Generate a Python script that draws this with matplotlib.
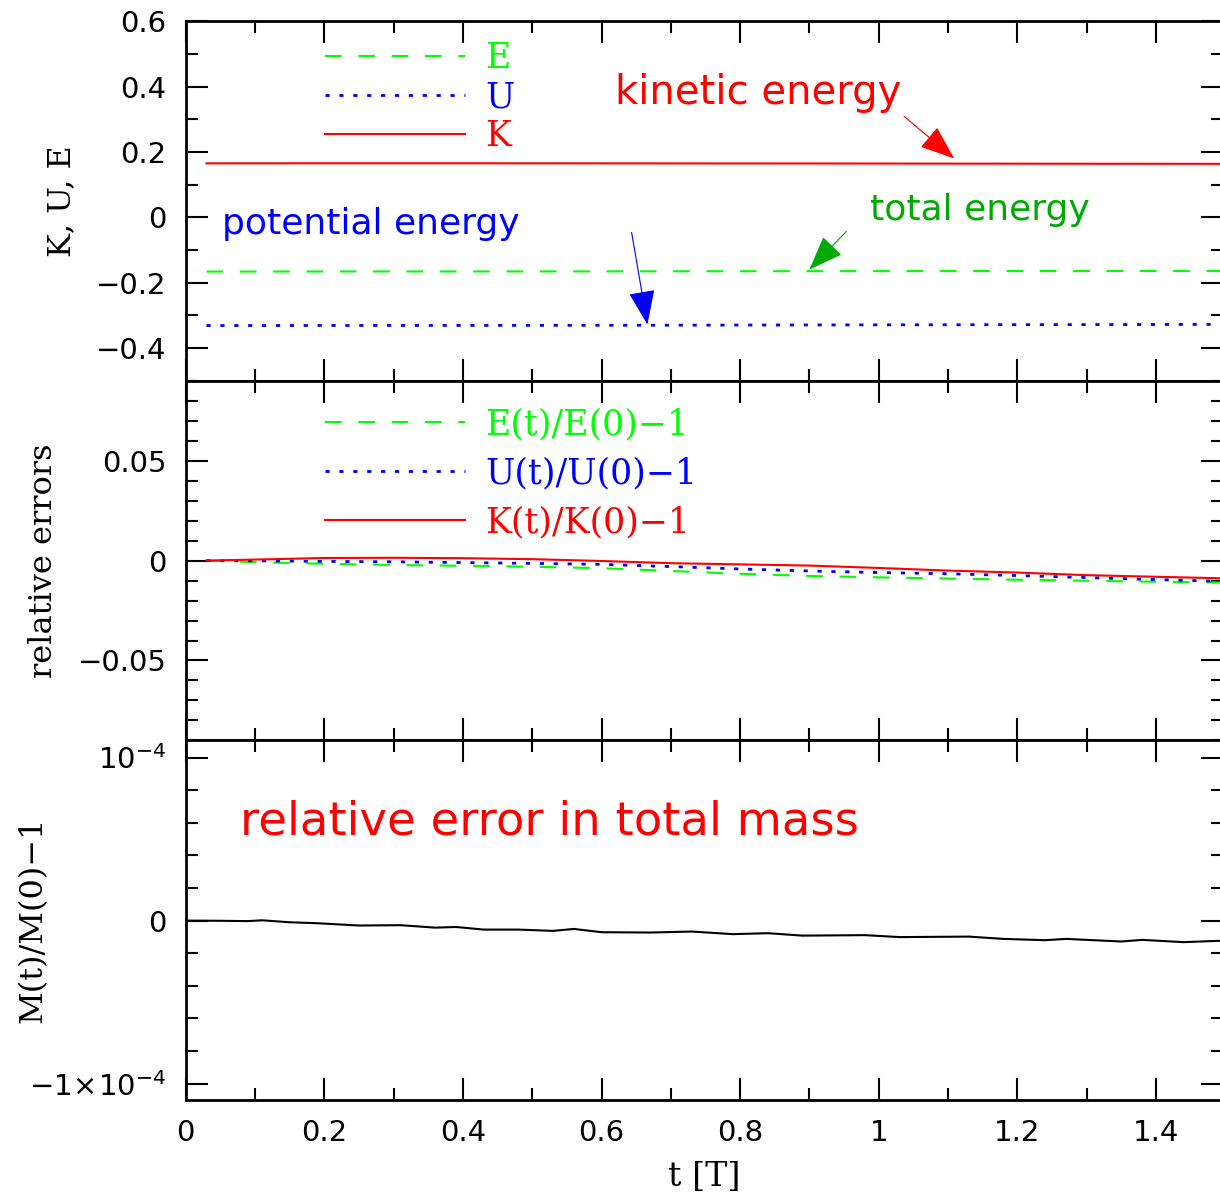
import matplotlib
matplotlib.use('Agg')
import matplotlib.pyplot as plt
from matplotlib.ticker import MultipleLocator, FuncFormatter, FixedLocator, FixedFormatter
from matplotlib.lines import Line2D

# ---------------- data ----------------
t = [0.03, 0.1, 0.2, 0.3, 0.4, 0.5, 0.6, 0.7, 0.8, 0.9, 1.0, 1.1, 1.2, 1.3, 1.4, 1.5]
K = [0.1650, 0.1651, 0.1652, 0.1652, 0.1652, 0.1651, 0.1650, 0.1648, 0.1647, 0.1646,
     0.1644, 0.1642, 0.1640, 0.1638, 0.1637, 0.1635]
U = [-0.3310, -0.3310, -0.3309, -0.3308, -0.3307, -0.3305, -0.3304, -0.3300, -0.3296, -0.3293,
     -0.3290, -0.3288, -0.3285, -0.3282, -0.3279, -0.3276]
E = [-0.1660, -0.1659, -0.1657, -0.1656, -0.1656, -0.1655, -0.1654, -0.1651, -0.1649, -0.1647,
     -0.1646, -0.1645, -0.1644, -0.1643, -0.1642, -0.1642]
rel_K = [0.0, 0.0005, 0.0013, 0.0014, 0.0012, 0.0007, -0.0002, -0.0013, -0.0019, -0.0025,
         -0.0037, -0.0050, -0.0060, -0.0073, -0.0081, -0.0089]
rel_U = [0.0, -0.0001, -0.0004, -0.0006, -0.0010, -0.0014, -0.0019, -0.0030, -0.0042, -0.0052,
         -0.0060, -0.0066, -0.0075, -0.0085, -0.0095, -0.0104]
rel_E = [0.0, -0.0008, -0.0016, -0.0022, -0.0026, -0.0031, -0.0038, -0.0052, -0.0066, -0.0077,
         -0.0084, -0.0090, -0.0096, -0.0101, -0.0106, -0.0110]
t_mass = [0.0, 0.05, 0.09, 0.11, 0.15, 0.19, 0.25, 0.31, 0.36, 0.39, 0.43, 0.48, 0.53, 0.56,
          0.60, 0.67, 0.73, 0.79, 0.84, 0.89, 0.98, 1.03, 1.13, 1.18, 1.24, 1.27, 1.35, 1.38,
          1.44, 1.49, 1.52]
rel_M = [0.0, -0.1e-6, -0.3e-6, 0.2e-6, -1.0e-6, -1.6e-6, -3.0e-6, -2.8e-6, -4.3e-6, -3.9e-6,
         -5.5e-6, -5.5e-6, -6.3e-6, -5.1e-6, -7.1e-6, -7.3e-6, -6.7e-6, -8.3e-6, -7.7e-6,
         -9.2e-6, -8.9e-6, -10.1e-6, -9.8e-6, -11.2e-6, -12.0e-6, -11.2e-6, -12.8e-6,
         -11.8e-6, -13.2e-6, -12.4e-6, -12.6e-6]

labels_top = ['E', 'U', 'K']
labels_mid = ['E(t)/E(0)\u22121', 'U(t)/U(0)\u22121', 'K(t)/K(0)\u22121']
mass_ticks = [1e-4, 0.0, -1e-4]
mass_ticklabels = [r'$10^{-4}$', '0', r'$-1\!\times\!10^{-4}$']

# ---------------- style ----------------
LIME = '#00ff00'
DKGREEN = '#00aa00'
RED = '#ff0000'
BLUE = '#0000ff'
SERIF = ['DejaVu Serif']
plt.rcParams['font.family'] = ['DejaVu Sans']
plt.rcParams['mathtext.fontset'] = 'dejavusans'

fig = plt.figure(figsize=(12.2, 11.94), dpi=100)
left = 185.7 / 1220
width = (1222.5 - 185.7) / 1220
h = 0.3012
ax_top = fig.add_axes([left, 0.6811, width, h])
ax_mid = fig.add_axes([left, 0.3799, width, h])
ax_bot = fig.add_axes([left, 0.0787, width, h])

def fmt(v, pos):
    s = '%g' % v
    return s.replace('-', '\u2212')

for ax in (ax_top, ax_mid, ax_bot):
    ax.set_xlim(0, 1.496)
    ax.xaxis.set_major_locator(MultipleLocator(0.2))
    ax.xaxis.set_minor_locator(MultipleLocator(0.1))
    ax.tick_params(which='both', direction='in', top=True, right=True, width=1.5,
                   labelsize=21, pad=14)
    ax.tick_params(which='major', length=16)
    ax.tick_params(which='minor', length=8.5)
    for sp in ax.spines.values():
        sp.set_linewidth(2)
    ax.xaxis.set_major_formatter(FuncFormatter(fmt))

for ax in (ax_top, ax_mid):
    ax.tick_params(labelbottom=False)

dash_E = (8, 8)
dot_U = (1.5, 3.5)

# ---- top panel ----
ax_top.plot(t, E, color=LIME, lw=1.5, dashes=dash_E)
ax_top.plot(t, U, color=BLUE, lw=2, dashes=dot_U)
ax_top.plot(t, K, color=RED, lw=1.5)
ax_top.set_ylim(-0.5, 0.6)
ax_top.yaxis.set_major_locator(MultipleLocator(0.2))
ax_top.yaxis.set_minor_locator(MultipleLocator(0.1))
ax_top.yaxis.set_major_formatter(FuncFormatter(fmt))
ax_top.set_ylabel('K, U, E', family=SERIF, fontsize=23)
ax_top.yaxis.set_label_coords(-0.105, 0.5)

handles_top = [Line2D([], [], color=LIME, lw=1.5, dashes=dash_E),
               Line2D([], [], color=BLUE, lw=2, dashes=dot_U),
               Line2D([], [], color=RED, lw=1.5)]
ax_top.legend(handles_top, labels_top, loc='upper left', bbox_to_anchor=(0.134, 0.944),
              frameon=False, borderpad=0, borderaxespad=0, handlelength=4.03,
              handletextpad=0.6, labelspacing=0.14, labelcolor='linecolor',
              prop={'family': SERIF, 'size': 25})

ax_top.text(0.6195, 0.346, 'kinetic energy', color=RED, fontsize=29, ha='left', va='baseline')
ax_top.text(0.0524, -0.0524, 'potential energy', color=BLUE, fontsize=26, ha='left', va='baseline')
ax_top.text(0.9874, -0.0095, 'total energy', color=DKGREEN, fontsize=26, ha='left', va='baseline')

def arrow(ax, tail, tip, color):
    ax.annotate('', xy=tip, xytext=tail,
                arrowprops=dict(arrowstyle='-|>,head_length=1.1,head_width=0.42',
                                mutation_scale=20, color=color, lw=0.8,
                                shrinkA=0, shrinkB=0))

arrow(ax_top, (1.0365, 0.309), (1.1087, 0.180), RED)
arrow(ax_top, (0.9535, -0.043), (0.900, -0.1596), DKGREEN)
arrow(ax_top, (0.6434, -0.0463), (0.6662, -0.328), BLUE)

# ---- middle panel ----
ax_mid.plot(t, rel_E, color=LIME, lw=1.5, dashes=dash_E)
ax_mid.plot(t, rel_U, color=BLUE, lw=2, dashes=dot_U)
ax_mid.plot(t, rel_K, color=RED, lw=1.5)
ax_mid.set_ylim(-0.09, 0.09)
ax_mid.yaxis.set_major_locator(MultipleLocator(0.05))
ax_mid.yaxis.set_minor_locator(MultipleLocator(0.01))
ax_mid.yaxis.set_major_formatter(FuncFormatter(fmt))
ax_mid.set_ylabel('relative errors', family=SERIF, fontsize=23)
ax_mid.yaxis.set_label_coords(-0.122, 0.5)

handles_mid = [Line2D([], [], color=LIME, lw=1.5, dashes=dash_E),
               Line2D([], [], color=BLUE, lw=2, dashes=dot_U),
               Line2D([], [], color=RED, lw=1.5)]
ax_mid.legend(handles_mid, labels_mid, loc='upper left', bbox_to_anchor=(0.134, 0.927),
              frameon=False, borderpad=0, borderaxespad=0, handlelength=4.03,
              handletextpad=0.6, labelspacing=0.435, labelcolor='linecolor',
              prop={'family': SERIF, 'size': 25})

# ---- bottom panel ----
ax_bot.plot(t_mass, rel_M, color='black', lw=1.5)
ax_bot.set_ylim(-1.1e-4, 1.105e-4)
ax_bot.yaxis.set_major_locator(FixedLocator(mass_ticks))
ax_bot.yaxis.set_major_formatter(FixedFormatter(mass_ticklabels))
ax_bot.yaxis.set_minor_locator(MultipleLocator(0.2e-4))
ax_bot.set_ylabel('M(t)/M(0)\u22121', family=SERIF, fontsize=23)
ax_bot.yaxis.set_label_coords(-0.132, 0.5)
ax_bot.set_xlabel('t [T]', family=SERIF, fontsize=24, labelpad=10)
ax_bot.text(0.0784, 0.53e-4, 'relative error in total mass', color=RED, fontsize=33.5,
            ha='left', va='baseline')

fig.savefig('out.png', dpi=100)
